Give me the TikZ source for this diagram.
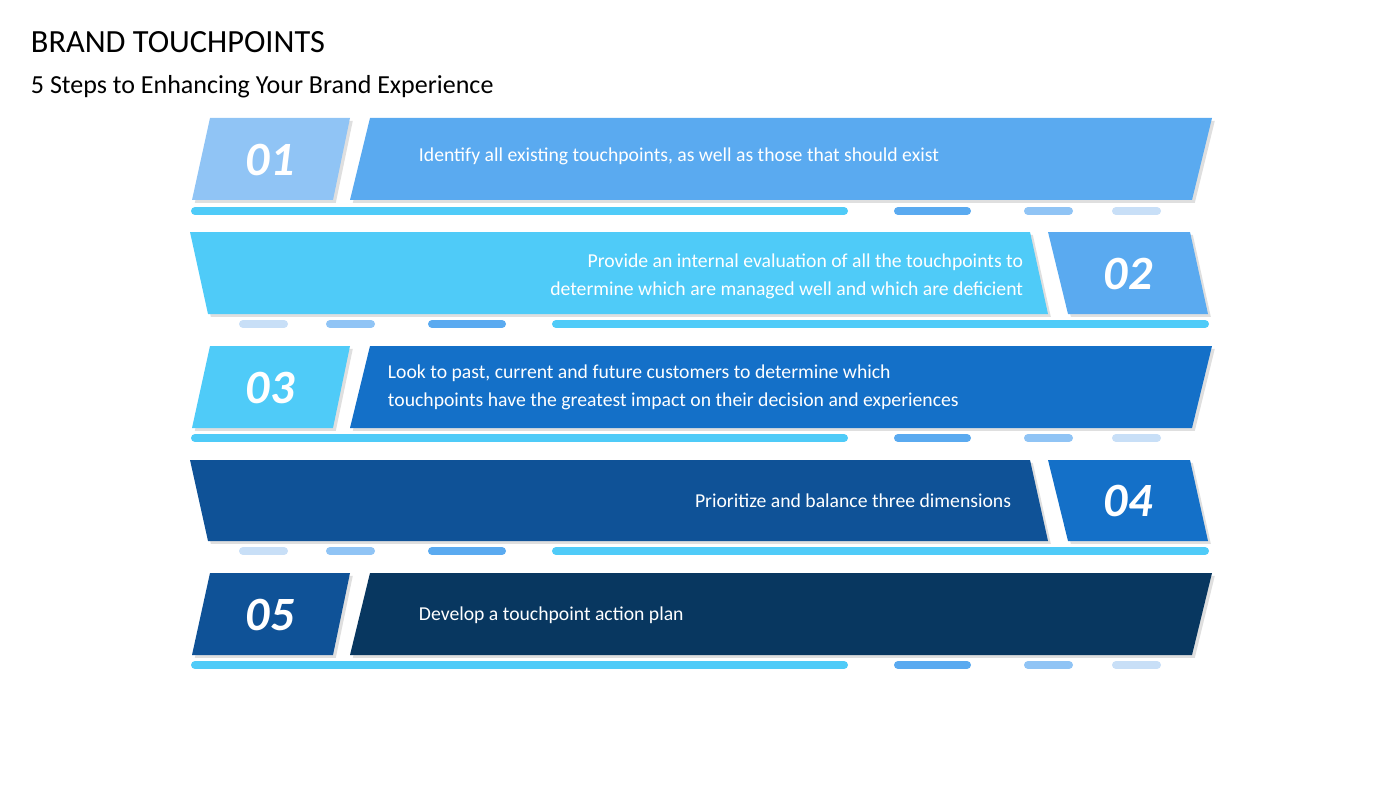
\documentclass[tikz,border=0pt]{standalone}
\usepackage{fontspec}
\setmainfont{Carlito}
\usetikzlibrary{shadows}
\definecolor{blueA}{HTML}{90C4F5}
\definecolor{blueB}{HTML}{5AAAF0}
\definecolor{blueC}{HTML}{4FCBF8}
\definecolor{blueD}{HTML}{1470C8}
\definecolor{blueE}{HTML}{0F5297}
\definecolor{blueF}{HTML}{083760}
\definecolor{blueG}{HTML}{C8DFF7}
\begin{document}
\begin{tikzpicture}[x=0.025cm, y=-0.025cm,
    band/.style={drop shadow={shadow xshift=2pt, shadow yshift=-2pt, opacity=0.25}},
    num/.style={text=white, font=\fontsize{34}{40}\selectfont\bfseries\itshape},
    txt/.style={text=white, font=\fontsize{14}{20}\selectfont},
    bar/.style={line width=0.2cm, line cap=round}
]
\useasboundingbox (0,0) rectangle (1400,788);

% titles
\node[anchor=west, font=\fontsize{23}{26}\selectfont] (title) at (26,42) {BRAND TOUCHPOINTS};
\node[anchor=west, font=\fontsize{18.5}{22}\selectfont] (subtitle) at (26,87) {5 Steps to Enhancing Your Brand Experience};

% Step 1
\fill[blueA, band] (210,118) -- (350,118) -- (333,200) -- (192,200) -- cycle;
\fill[blueB, band] (370,118) -- (1212,118) -- (1192,200) -- (350,200) -- cycle;
\node[num] (n1) at (270,160) {01};
\node[txt, anchor=west] (t1) at (414,156) {Identify all existing touchpoints, as well as those that should exist};
\draw[bar, blueC] (195,211) -- (844,211);
\draw[bar, blueB] (898,211) -- (967,211);
\draw[bar, blueA] (1028,211) -- (1069,211);
\draw[bar, blueG] (1116,211) -- (1157,211);

% Step 2
\fill[blueC, band] (190,232) -- (1030,232) -- (1048,314) -- (208,314) -- cycle;
\fill[blueB, band] (1048,232) -- (1190,232) -- (1208,314) -- (1068,314) -- cycle;
\node[num] (n2) at (1128,274) {02};
\node[txt, anchor=east, align=right] (t2) at (1028,276) {Provide an internal evaluation of all the touchpoints to\\determine which are managed well and which are deficient};
\draw[bar, blueG] (243,324) -- (284,324);
\draw[bar, blueA] (330,324) -- (371,324);
\draw[bar, blueB] (432,324) -- (502,324);
\draw[bar, blueC] (556,324) -- (1205,324);

% Step 3
\fill[blueC, band] (210,346) -- (350,346) -- (333,428) -- (192,428) -- cycle;
\fill[blueD, band] (370,346) -- (1212,346) -- (1192,428) -- (350,428) -- cycle;
\node[num] (n3) at (270,388) {03};
\node[txt, anchor=west, align=left] (t3) at (383,387) {Look to past, current and future customers to determine which\\touchpoints have the greatest impact on their decision and experiences};
\draw[bar, blueC] (195,438) -- (844,438);
\draw[bar, blueB] (898,438) -- (967,438);
\draw[bar, blueA] (1028,438) -- (1069,438);
\draw[bar, blueG] (1116,438) -- (1157,438);

% Step 4
\fill[blueE, band] (190,460) -- (1030,460) -- (1048,541) -- (208,541) -- cycle;
\fill[blueD, band] (1048,460) -- (1190,460) -- (1208,541) -- (1068,541) -- cycle;
\node[num] (n4) at (1128,501) {04};
\node[txt, anchor=east] (t4) at (1016,501) {Prioritize and balance three dimensions};
\draw[bar, blueG] (243,551) -- (284,551);
\draw[bar, blueA] (330,551) -- (371,551);
\draw[bar, blueB] (432,551) -- (502,551);
\draw[bar, blueC] (556,551) -- (1205,551);

% Step 5
\fill[blueE, band] (210,573) -- (350,573) -- (333,655) -- (192,655) -- cycle;
\fill[blueF, band] (370,573) -- (1212,573) -- (1192,655) -- (350,655) -- cycle;
\node[num] (n5) at (270,615) {05};
\node[txt, anchor=west] (t5) at (414,615) {Develop a touchpoint action plan};
\draw[bar, blueC] (195,665) -- (844,665);
\draw[bar, blueB] (898,665) -- (967,665);
\draw[bar, blueA] (1028,665) -- (1069,665);
\draw[bar, blueG] (1116,665) -- (1157,665);

\end{tikzpicture}
\end{document}
